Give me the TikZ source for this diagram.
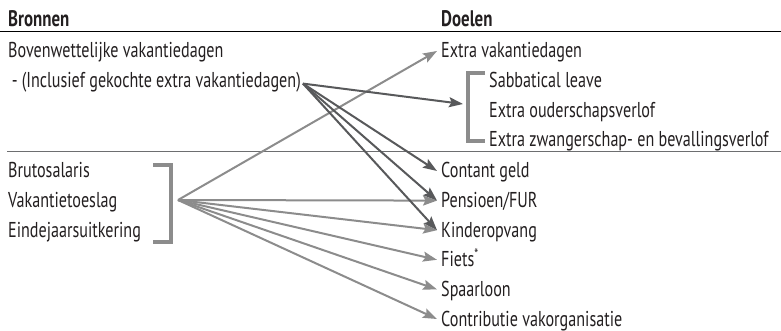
\documentclass[tikz,border=0pt]{standalone}
\usepackage{fontspec}
\setmainfont{PT Sans}[FakeStretch=0.75]
\usetikzlibrary{arrows.meta,positioning,calc}

\definecolor{ink}{HTML}{231F20}
\definecolor{darkgrey}{HTML}{58595B}
\definecolor{lightgrey}{HTML}{8C8C8C}
\definecolor{rulegrey}{HTML}{6D6E70}

\begin{document}
\begin{tikzpicture}[
    x=1pt,
    y=1pt,
    line join=miter,
    >={Stealth[length=14pt,width=10pt,inset=2.5pt]},
    node distance=29.6pt,
    head/.style={
        anchor=base west,
        inner xsep=4pt,
        inner ysep=0pt,
        text=ink,
        font=\fontsize{22.5}{26}\selectfont\bfseries
    },
    item/.style={
        anchor=base west,
        inner xsep=4pt,
        inner ysep=0pt,
        text height=15pt,
        text depth=1pt,
        text=ink,
        font=\fontsize{21.5}{25}\selectfont
    },
    under/.style={below=of #1.base west,anchor=base west},
    bracket/.style={line width=4.5pt,draw=lightgrey},
    darkarrow/.style={->,line width=2pt,draw=darkgrey,fill=darkgrey},
    lightarrow/.style={->,line width=2pt,draw=lightgrey,fill=lightgrey}
]
\useasboundingbox (0,0) rectangle (781,-331);

% headers and rules
\node[head] (bronnen) at (4,-27) {Bronnen};
\node[head] (doelen) at (437,-27) {Doelen};
\draw[line width=1pt,black] (0,-32) -- (781,-32);
\draw[line width=1pt,rulegrey] (7,-152) -- (781,-152);

% sources
\node[item] (bovenwet) at (4,-58) {Bovenwettelijke vakantiedagen};
\node[item,under=bovenwet] (gekocht) {\,- (Inclusief gekochte extra vakantiedagen)};
\node[item] (bruto) at (4,-178) {Brutosalaris};
\node[item,under=bruto] (toeslag) {Vakantietoeslag};
\node[item,under=toeslag] (eindejaar) {Eindejaarsuitkering};

% goals
\node[item] (extravak) at (437,-58) {Extra vakantiedagen};
\node[item] (sabbat) at (485,-87.5) {Sabbatical leave};
\node[item,under=sabbat] (ouder) {Extra ouderschapsverlof};
\node[item,under=ouder] (zwanger) {Extra zwangerschap- en bevallingsverlof};
\node[item] (contant) at (437,-178) {Contant geld};
\node[item,under=contant] (pensioen) {Pensioen/FUR};
\node[item,under=pensioen] (kinder) {Kinderopvang};
\node[item,under=kinder] (fiets) {Fiets\textsuperscript{*}};
\node[item,under=fiets] (spaar) {Spaarloon};
\node[item,under=spaar] (contrib) {Contributie vakorganisatie};

% brackets
\draw[bracket] (153,-165) -| (171,-242) -- (153,-242);
\draw[bracket] (485,-73) -| (468,-141) -- (485,-141);
\coordinate (verlof) at (463,-104);
\coordinate (salaris) at (178,-200);
\coordinate (vakdagen) at ($(gekocht.east)+(-2,-3)$);

% arrows from the salary components
\draw[lightarrow] (salaris) -- (extravak.west);
\draw[lightarrow] (salaris) -- (pensioen.west);
\draw[lightarrow] (salaris) -- (kinder.west);
\draw[lightarrow] (salaris) -- (fiets.west);
\draw[lightarrow] (salaris) -- (spaar.west);
\draw[lightarrow] (salaris) -- (contrib.west);

% arrows from the extra days
\draw[darkarrow] (vakdagen) -- (verlof);
\draw[darkarrow] (vakdagen) -- (contant.west);
\draw[darkarrow] (vakdagen) -- (pensioen.west);
\draw[darkarrow] (vakdagen) -- (kinder.west);

\end{tikzpicture}
\end{document}
